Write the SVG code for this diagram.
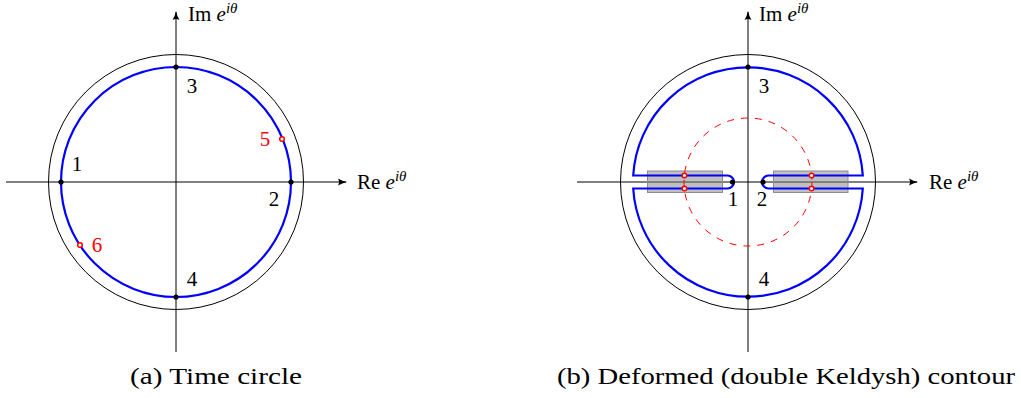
<svg xmlns="http://www.w3.org/2000/svg" width="1021" height="398" viewBox="0 0 1021 398">
<style>
.ax{stroke:#000;stroke-width:1;fill:none}
.outer{stroke:#000;stroke-width:1;fill:none}
.blue{stroke:#0000ff;stroke-width:2.2;fill:none}
.dot{fill:#000}
.rdot{fill:#fff;stroke:#ff0000;stroke-width:1.5}
.rect{fill:#808080;fill-opacity:0.5;stroke:#8c8c8c;stroke-width:1}
.dash{stroke:#ff0000;stroke-width:1;fill:none;stroke-dasharray:7 7}
.lbl{font-size:21px;fill:#000}
.num{font-size:21px;text-anchor:middle;fill:#000}
.red{fill:#ff0000}
.cap{font-size:24px;fill:#000}
</style>
<defs>
<marker id="arr" viewBox="0 0 10 10" refX="9" refY="5" markerWidth="10" markerHeight="10" markerUnits="userSpaceOnUse" orient="auto">
<path d="M1,1.5 Q5,4 10,5 Q5,6 1,8.5 Q3,5 1,1.5 Z" fill="#000"/>
</marker>
</defs>

<g id="panel-a" font-family="Liberation Serif, Times New Roman, serif">
  <g id="axes-a">
    <line class="ax" x1="6" y1="182" x2="346" y2="182" marker-end="url(#arr)"/>
    <line class="ax" x1="176" y1="352" x2="176" y2="12" marker-end="url(#arr)"/>
  </g>
  <circle id="outer-a" class="outer" cx="176" cy="182" r="127.5"/>
  <circle id="contour-a" class="blue" cx="176" cy="182" r="115"/>
  <g id="points-a">
    <circle class="dot" cx="61" cy="182" r="2.6"/>
    <circle class="dot" cx="291" cy="182" r="2.6"/>
    <circle class="dot" cx="176" cy="67" r="2.6"/>
    <circle class="dot" cx="176" cy="297" r="2.6"/>
    <circle class="rdot" cx="282" cy="139" r="2.3"/>
    <circle class="rdot" cx="80" cy="245" r="2.3"/>
  </g>
  <g id="labels-a">
    <text class="num" x="77" y="171">1</text>
    <text class="num" x="274" y="206">2</text>
    <text class="num" x="192" y="93">3</text>
    <text class="num" x="192" y="286">4</text>
    <text class="num red" x="265" y="146">5</text>
    <text class="num red" x="97" y="252">6</text>
    <text class="lbl" x="188" y="21">Im <tspan font-style="italic">e</tspan><tspan font-style="italic" font-size="15" dy="-8">iθ</tspan></text>
    <text class="lbl" x="357" y="189">Re <tspan font-style="italic">e</tspan><tspan font-style="italic" font-size="15" dy="-8">iθ</tspan></text>
  </g>
  <text id="caption-a" class="cap" x="130" y="384" textLength="172" lengthAdjust="spacingAndGlyphs">(a) Time circle</text>
</g>

<g id="panel-b" font-family="Liberation Serif, Times New Roman, serif">
  <g id="axes-b">
    <line class="ax" x1="577" y1="182" x2="917" y2="182" marker-end="url(#arr)"/>
    <line class="ax" x1="748" y1="352" x2="748" y2="12" marker-end="url(#arr)"/>
  </g>
  <circle id="outer-b" class="outer" cx="748" cy="182" r="127.5"/>
  <g id="branch-cuts">
    <rect class="rect" x="647.5" y="171" width="75" height="21.5"/>
    <rect class="rect" x="773.5" y="171" width="74.5" height="21.5"/>
  </g>
  <circle id="dashed-circle" class="dash" cx="748" cy="182" r="64"/>
  <path id="contour-b" class="blue" d="M633.2,175.5 A115,115 0 0 1 862.8,175.5 L768.5,175.5 A6.5,6.5 0 0 0 768.5,188.5 L862.8,188.5 A115,115 0 0 1 633.2,188.5 L727.5,188.5 A6.5,6.5 0 0 0 727.5,175.5 Z"/>
  <g id="points-b">
    <circle class="dot" cx="732.5" cy="182" r="2.6"/>
    <circle class="dot" cx="763" cy="182" r="2.6"/>
    <circle class="dot" cx="748" cy="67" r="2.6"/>
    <circle class="dot" cx="748" cy="297" r="2.6"/>
    <circle class="rdot" cx="684.4" cy="175.5" r="2.3"/>
    <circle class="rdot" cx="684.4" cy="188.5" r="2.3"/>
    <circle class="rdot" cx="811.6" cy="175.5" r="2.3"/>
    <circle class="rdot" cx="811.6" cy="188.5" r="2.3"/>
  </g>
  <g id="labels-b">
    <text class="num" x="733" y="206">1</text>
    <text class="num" x="762" y="206">2</text>
    <text class="num" x="764" y="93">3</text>
    <text class="num" x="764" y="286">4</text>
    <text class="lbl" x="759" y="21">Im <tspan font-style="italic">e</tspan><tspan font-style="italic" font-size="15" dy="-8">iθ</tspan></text>
    <text class="lbl" x="929" y="189">Re <tspan font-style="italic">e</tspan><tspan font-style="italic" font-size="15" dy="-8">iθ</tspan></text>
  </g>
  <text id="caption-b" class="cap" x="557" y="384" textLength="458" lengthAdjust="spacingAndGlyphs">(b) Deformed (double Keldysh) contour</text>
</g>
</svg>
